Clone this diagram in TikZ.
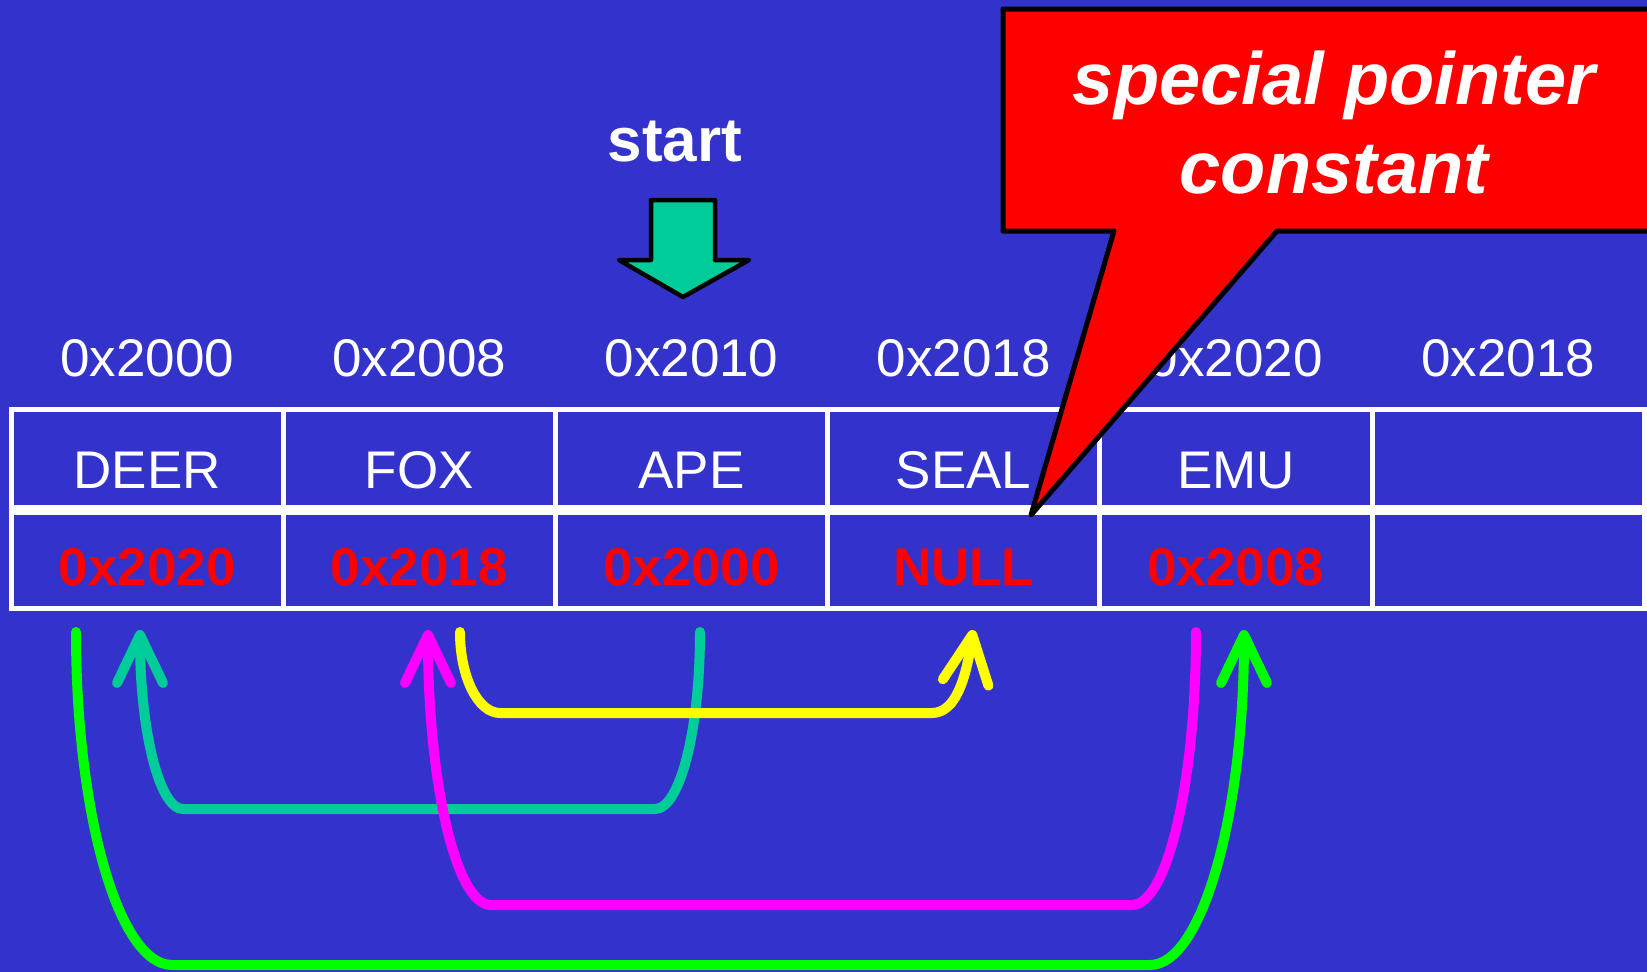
\documentclass[tikz,border=0pt]{standalone}
\usepackage{fontspec}
\setmainfont{Liberation Sans}
\usetikzlibrary{arrows.meta}

\definecolor{slide}{HTML}{3333CC}
\definecolor{tealc}{HTML}{00CC99}
\definecolor{yellowc}{HTML}{FFFF00}
\definecolor{magentac}{HTML}{FF00FF}
\definecolor{greenc}{HTML}{00FF00}
\definecolor{redc}{HTML}{FF0000}

\tikzset{
  namecell/.style={draw=white, line width=5pt, minimum width=272.2pt, minimum height=98pt,
    inner sep=0pt, text height=79pt, text depth=19pt, anchor=north, text=white,
    font=\fontsize{53}{60}\selectfont},
  ptrcell/.style={draw=white, line width=5pt, minimum width=272.2pt, minimum height=96pt,
    inner sep=0pt, text height=73pt, text depth=23pt, anchor=north, text=redc,
    font=\fontsize{53}{60}\selectfont\bfseries},
  addr/.style={anchor=base, inner sep=0pt, text=white, font=\fontsize{53}{60}\selectfont},
  calltext/.style={anchor=base, inner sep=0pt, text=white,
    font=\fontsize{74}{89}\selectfont\bfseries\itshape},
  link/.style={line width=10pt, line cap=round, line join=round,
    -{Straight Barb[length=48pt,width=46pt,round]}},
}

\begin{document}
\begin{tikzpicture}[x=1pt,y=-1pt]
\useasboundingbox (0,0) rectangle (1647,972);
\fill[slide] (0,0) rectangle (1647,972);
\clip (0,0) rectangle (1647,972);

% addresses above the memory cells
\node[addr] (a1) at (147.1,376) {0x2000};
\node[addr] (a2) at (419.3,376) {0x2008};
\node[addr] (a3) at (691.5,376) {0x2010};
\node[addr] (a4) at (963.7,376) {0x2018};
\node[addr] (a5) at (1235.9,376) {0x2020};
\node[addr] (a6) at (1508.1,376) {0x2018};

% first row: stored names
\node[namecell] (d1) at (147.1,407) {DEER};
\node[namecell] (d2) at (419.3,407) {FOX};
\node[namecell] (d3) at (691.5,407) {APE};
\node[namecell] (d4) at (963.7,407) {SEAL};
\node[namecell] (d5) at (1235.9,407) {EMU};
\node[namecell] (d6) at (1508.1,407) {};

% second row: next pointers
\node[ptrcell] (p1) at (147.1,510) {0x2020};
\node[ptrcell] (p2) at (419.3,510) {0x2018};
\node[ptrcell] (p3) at (691.5,510) {0x2000};
\node[ptrcell] (p4) at (963.7,510) {NULL};
\node[ptrcell] (p5) at (1235.9,510) {0x2008};
\node[ptrcell] (p6) at (1508.1,510) {};

% start label and block arrow
\node[anchor=base, inner sep=0pt, text=white, font=\fontsize{62}{70}\selectfont\bfseries]
  (start) at (675,161) {start};
\draw[fill=tealc, draw=black, line width=4.5pt, line join=round]
  (651,200) -- (715,200) -- (715,260) -- (749,260) -- (683,297) -- (619,260) -- (651,260) -- cycle;

% link ends
\coordinate (tS) at (700,632);
\coordinate (tE) at (140,630);
\coordinate (yS) at (460,632);
\coordinate (yE) at (973,630);
\coordinate (mS) at (1196,632);
\coordinate (mE) at (428,630);
\coordinate (gS) at (76,632);
\coordinate (gE) at (1244,630);

% APE -> DEER
\draw[link, tealc] (tS) .. controls (700,730) and (680,809) .. (655,809) -- (183,809)
  .. controls (159,809) and (140,729) .. (tE);
% FOX -> SEAL
\draw[link, yellowc] (yS) .. controls (460,677) and (478,713) .. (500,713) -- (932,713)
  .. controls (955,713) and (966,680) .. (yE);
% EMU -> FOX
\draw[link, magentac] (mS) .. controls (1196,783) and (1167,905) .. (1132,905) -- (491,905)
  .. controls (456,905) and (428,782) .. (mE);
% DEER -> EMU
\draw[link, greenc] (gS) .. controls (76,815) and (119,965) .. (172,965) -- (1150,965)
  .. controls (1202,965) and (1244,815) .. (gE);

% callout pointing at NULL
\coordinate (cTip) at (1031,515);
\draw[fill=redc, draw=black, line width=5pt, line join=round]
  (1003,9) -- (1680,9) -- (1680,231) -- (1277,231) -- (cTip) -- (1114,231) -- (1003,231) -- cycle;
\node[calltext] (ct1) at (1334,104) {special pointer};
\node[calltext] (ct2) at (1334,193) {constant};
\end{tikzpicture}
\end{document}
